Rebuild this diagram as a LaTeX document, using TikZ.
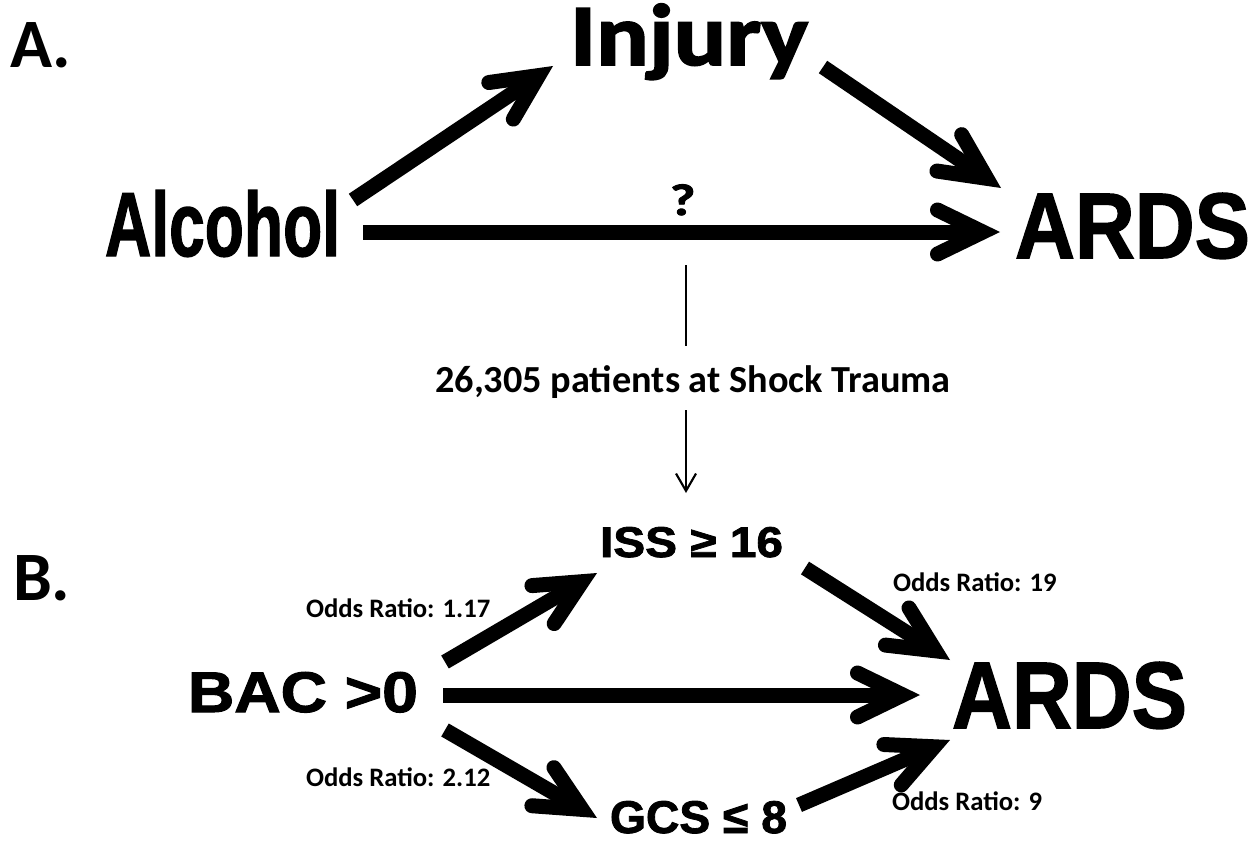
\documentclass[tikz,border=0pt]{standalone}
\usepackage{fontspec}
\usepackage{graphicx}
\setmainfont{Carlito}
\newfontfamily\impactf{Liberation Sans Bold}[FakeBold=1.6]
\newfontfamily\blackf{Liberation Sans Bold}[FakeBold=1.8]
\newfontfamily\calheavy{Carlito Bold}[FakeBold=2]
\usetikzlibrary{arrows.meta}
\newcommand\fitbox[3]{\resizebox{#1}{#2}{#3}}
\tikzset{
  big/.style={line width=11.25pt,
    -{Straight Barb[length=34pt,width=33pt,line cap=round,line join=miter]}},
  thinline/.style={line width=1.6pt},
  thinarrow/.style={line width=1.6pt,
    -{Straight Barb[length=13pt,width=15pt,line join=miter]}},
  txt/.style={inner sep=0pt, outer sep=0pt, anchor=base west},
  panel/.style={inner sep=0pt, outer sep=0pt, anchor=base west,
    font=\bfseries\fontsize{52}{54}\selectfont},
  odds/.style={inner sep=0pt, outer sep=0pt, anchor=base west,
    font=\bfseries\fontsize{20}{21}\selectfont},
}
\begin{document}
\begin{tikzpicture}[x=0.75pt,y=-0.75pt]
\useasboundingbox (0,0) rectangle (1260,842);
% panel labels
\node[panel] (la) at (10,68) {A.};
\node[panel] (lb) at (13,600) {B.};
% panel A
\node[txt] (alc) at (105,256) {\fitbox{176.25pt}{49.5pt}{\impactf Alcohol}};
\node[txt] (inj) at (570,65) {\fitbox{178.5pt}{46pt}{\calheavy Injury}};
\node[txt] (ardsA) at (1015,258) {\fitbox{176.25pt}{48.75pt}{\impactf ARDS}};
\node[txt] (q) at (670,215) {\fitbox{19pt}{23pt}{\calheavy ?}};
\coordinate (a1s) at (353,200); \coordinate (a1e) at (553,66);
\coordinate (a2s) at (823,67);  \coordinate (a2e) at (1001,188);
\coordinate (a3s) at (363,232); \coordinate (a3e) at (1000,232);
\draw[big] (a1s) -- (a1e);
\draw[big] (a2s) -- (a2e);
\draw[big] (a3s) -- (a3e);
% middle
\node[inner sep=0pt, anchor=base, font=\bfseries\fontsize{28.7}{30}\selectfont] (pts) at (693,392) {26,305 patients at Shock Trauma};
\coordinate (v1s) at (686,265); \coordinate (v1e) at (686,346);
\coordinate (v2s) at (686,410); \coordinate (v2e) at (686,493);
\draw[thinline] (v1s) -- (v1e);
\draw[thinarrow] (v2s) -- (v2e);
% panel B
\node[txt] (bac) at (188,712) {\fitbox{172.5pt}{30pt}{\blackf BAC >0}};
\node[txt] (iss) at (600,557) {\fitbox{137.25pt}{22.5pt}{\blackf ISS ≥ 16}};
\node[txt] (gcs) at (610,833) {\fitbox{132.75pt}{24pt}{\blackf GCS ≤ 8}};
\node[txt] (ardsB) at (952,728) {\fitbox{176.25pt}{49.5pt}{\impactf ARDS}};
\coordinate (b1s) at (445,662); \coordinate (b1e) at (597,573);
\coordinate (b2s) at (805,568); \coordinate (b2e) at (950,660);
\coordinate (b3s) at (443,695); \coordinate (b3e) at (920,695);
\coordinate (b4s) at (445,730); \coordinate (b4e) at (597,818);
\coordinate (b5s) at (799,805); \coordinate (b5e) at (950,740);
\draw[big] (b1s) -- (b1e);
\draw[big] (b2s) -- (b2e);
\draw[big] (b3s) -- (b3e);
\draw[big] (b4s) -- (b4e);
\draw[big] (b5s) -- (b5e);
\node[odds] (o1) at (306,617) {Odds Ratio: 1.17};
\node[odds] (o2) at (893,591) {Odds Ratio: 19};
\node[odds] (o3) at (306,786) {Odds Ratio: 2.12};
\node[odds] (o4) at (892,810) {Odds Ratio: 9};
\end{tikzpicture}
\end{document}
